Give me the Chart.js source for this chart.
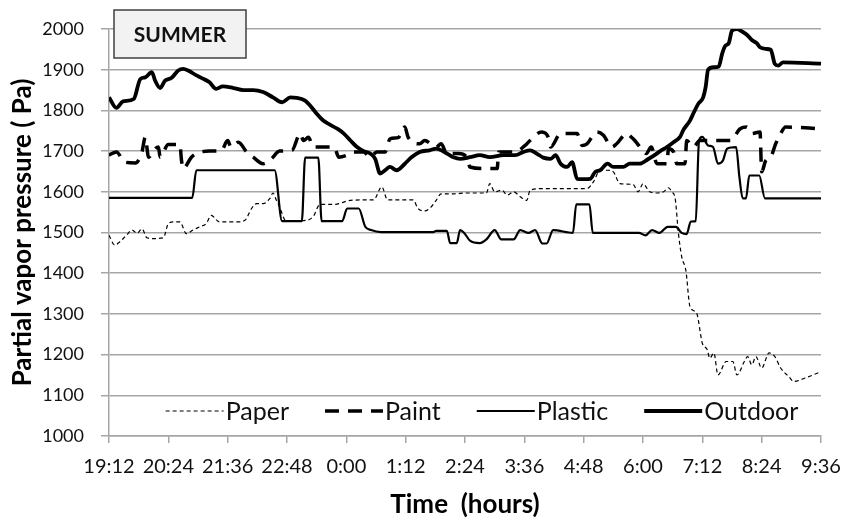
<!DOCTYPE html>
<html>
<head>
<meta charset="utf-8">
<script src="https://cdn.jsdelivr.net/npm/chart.js@4.4.0/dist/chart.umd.min.js"></script>
<style>
html,body{margin:0;padding:0;background:#fff;}
#rahmen{position:relative;width:845px;height:520px;}
</style>
</head>
<body>
<div id="rahmen"><canvas id="dampfChart"></canvas></div>
<script>
(function(){
'use strict';

// Zeit in Minuten seit 19:12
var TICK_MIN = [0,72,144,216,288,360,432,504,576,648,720,792,864];
var TICK_LABELS = ['19:12','20:24','21:36','22:48','0:00','1:12','2:24','3:36','4:48','6:00','7:12','8:24','9:36'];

var PAPER = [[0,1493],[7,1469],[13,1477],[21,1493],[28,1506],[34,1498],[40,1509],[46,1487],[54,1485],[66,1487],
  [72,1522],[78,1526],[86,1526],[94,1497],[102,1506],[110,1514],[118,1522],[124,1542],[134,1526],[142,1526],
  [155,1526],[165,1530],[173,1559],[179,1571],[187,1571],[195,1583],[199,1597],[203,1580],[207,1563],[215,1528],
  [240,1530],[248,1540],[256,1569],[273,1569],[293,1579],[309,1580],[321,1580],[331,1612],[338,1580],[349,1580],
  [369,1580],[375,1559],[383,1553],[391,1563],[397,1579],[403,1595],[418,1595],[434,1597],[458,1597],[462,1620],
  [468,1600],[477,1604],[483,1592],[491,1600],[499,1588],[507,1579],[511,1604],[527,1608],[580,1608],[588,1625],
  [596,1653],[605,1653],[612,1649],[620,1620],[636,1618],[642,1600],[648,1620],[656,1600],[665,1597],[673,1600],
  [679,1610],[683,1600],[687,1584],[691,1498],[695,1440],[700,1407],[705,1318],[713,1302],[720,1228],[726,1212],
  [729,1191],[734,1204],[739,1150],[749,1183],[757,1183],[762,1150],[771,1183],[775,1195],[780,1175],[785,1195],
  [792,1167],[801,1204],[808,1195],[815,1167],[825,1146],[831,1134],[844,1142],[864,1158]];

var PAINT = [[0,1690],[9,1698],[19,1673],[32,1671],[40,1698],[44,1734],[48,1685],[54,1702],[60,1710],[62,1685],
  [72,1716],[86,1716],[88,1677],[90,1657],[100,1685],[106,1694],[122,1700],[136,1700],[144,1726],[148,1710],
  [157,1722],[167,1698],[175,1685],[187,1669],[197,1681],[207,1700],[222,1702],[232,1743],[236,1726],[242,1734],
  [248,1710],[258,1710],[273,1710],[279,1685],[289,1690],[297,1698],[309,1698],[317,1685],[325,1698],[335,1698],
  [341,1730],[351,1733],[359,1759],[363,1734],[377,1718],[383,1726],[397,1710],[403,1718],[410,1694],[424,1694],
  [434,1685],[438,1661],[458,1657],[471,1657],[473,1698],[493,1698],[505,1714],[511,1726],[525,1747],[533,1734],
  [536,1710],[548,1743],[568,1743],[574,1714],[580,1718],[592,1747],[600,1739],[610,1710],[616,1718],[628,1743],
  [634,1734],[638,1726],[646,1706],[652,1694],[658,1710],[665,1669],[677,1669],[679,1706],[685,1698],[689,1669],
  [699,1669],[701,1726],[709,1710],[717,1726],[729,1726],[754,1726],[766,1755],[774,1759],[780,1743],[790,1747],
  [792,1649],[797,1677],[803,1685],[809,1718],[815,1743],[821,1759],[864,1755]];

var PLASTIC = [[0,1585],[101,1585],[106,1653],[201,1653],[210,1528],[234,1528],[238,1684],[254,1684],[258,1528],
  [283,1528],[289,1559],[303,1559],[311,1514],[318,1506],[330,1501],[394,1501],[397,1504],[410,1504],[414,1474],
  [422,1474],[426,1506],[431,1499],[438,1480],[450,1474],[458,1483],[468,1506],[476,1483],[491,1483],[499,1506],
  [509,1499],[517,1506],[526,1473],[531,1473],[539,1506],[563,1499],[567,1569],[583,1569],[587,1499],[643,1499],
  [651,1493],[659,1506],[668,1499],[678,1514],[688,1514],[695,1499],[701,1496],[706,1527],[712,1528],[716,1726],
  [720,1735],[727,1714],[733,1710],[739,1669],[745,1677],[750,1706],[761,1710],[765,1636],[769,1584],[773,1584],
  [777,1640],[789,1640],[796,1584],[864,1584]];

var OUTDOOR = [[0,1832],[9,1806],[17,1822],[30,1828],[38,1877],[44,1881],[52,1894],[56,1873],[62,1855],[68,1873],
  [76,1880],[84,1898],[90,1902],[96,1898],[106,1886],[112,1880],[122,1869],[130,1853],[138,1859],[151,1855],
  [163,1850],[175,1850],[187,1845],[199,1832],[210,1820],[220,1832],[228,1831],[238,1824],[244,1812],[252,1792],
  [260,1775],[268,1765],[277,1755],[285,1743],[293,1726],[301,1710],[309,1700],[317,1694],[323,1681],[329,1645],
  [335,1653],[341,1661],[349,1653],[359,1669],[367,1685],[377,1698],[389,1702],[397,1706],[410,1694],[418,1685],
  [426,1681],[438,1685],[450,1690],[462,1685],[479,1690],[493,1690],[503,1698],[511,1702],[519,1694],[527,1684],
  [536,1681],[542,1690],[548,1669],[556,1661],[562,1673],[568,1632],[576,1631],[584,1632],[590,1649],[596,1653],
  [605,1669],[612,1661],[624,1661],[632,1669],[644,1669],[654,1680],[662,1690],[669,1700],[677,1710],[685,1722],
  [693,1735],[697,1752],[705,1775],[709,1792],[715,1816],[721,1832],[724,1857],[727,1900],[734,1906],[740,1908],
  [744,1939],[748,1959],[752,1965],[756,1996],[762,2000],[768,1994],[774,1986],[780,1973],[786,1965],[790,1955],
  [797,1951],[803,1949],[808,1914],[812,1910],[818,1918],[864,1915]];

var GRAU = '#a6a6a6';
var SCHRIFT = 'Lato, "Open Sans", sans-serif';

function punkte(arr) {
  return arr.map(function(p){ return {x:p[0], y:p[1]}; });
}

function reihe(label, arr, breite, strich) {
  return {
    label: label,
    data: punkte(arr),
    borderColor: '#000',
    backgroundColor: '#000',
    borderWidth: breite,
    borderDash: strich,
    pointRadius: 0,
    fill: false,
    cubicInterpolationMode: 'monotone',
  };
}

var summerBox = {
  id: 'summerBox',
  afterDatasetsDraw: function(chart) {
    var ctx = chart.ctx, ca = chart.chartArea;
    var x = ca.left + 5, y = ca.top - 19, w = 132, h = 48;
    ctx.save();
    ctx.fillStyle = '#f2f2f2';
    ctx.fillRect(x, y, w, h);
    ctx.strokeStyle = '#404040';
    ctx.lineWidth = 1.5;
    ctx.strokeRect(x, y, w, h);
    ctx.fillStyle = '#111';
    ctx.font = 'bold 21px ' + SCHRIFT;
    ctx.textAlign = 'center';
    ctx.textBaseline = 'middle';
    ctx.fillText('SUMMER', x + w/2, y + h/2 + 1);
    ctx.restore();
  }
};

var innenLegende = {
  id: 'innenLegende',
  afterDraw: function(chart) {
    var ctx = chart.ctx, ca = chart.chartArea;
    var linie = 58, abstand = 2, luecke = 36;
    ctx.save();
    ctx.font = '25px ' + SCHRIFT;
    var ds = chart.data.datasets;
    var breiten = ds.map(function(d){ return ctx.measureText(d.label).width; });
    var gesamt = 0;
    breiten.forEach(function(b){ gesamt += linie + abstand + b; });
    gesamt += luecke * (breiten.length - 1);
    var x = (ca.left + ca.right)/2 + 17 - gesamt/2;
    var y = ca.bottom - 25;
    ds.forEach(function(d, i){
      ctx.strokeStyle = d.borderColor;
      ctx.lineWidth = d.borderWidth;
      ctx.setLineDash(d.borderDash || []);
      ctx.beginPath();
      ctx.moveTo(x, y);
      ctx.lineTo(x + linie, y);
      ctx.stroke();
      ctx.setLineDash([]);
      ctx.fillStyle = '#111';
      ctx.textAlign = 'left';
      ctx.textBaseline = 'middle';
      ctx.fillText(d.label, x + linie + abstand, y + 1);
      x += linie + abstand + breiten[i] + luecke;
    });
    ctx.restore();
  }
};

var ctx = document.getElementById('dampfChart').getContext('2d');
new Chart(ctx, {
  type: 'line',
  data: {
    datasets: [
      reihe('Paper', PAPER, 1.2, [4,3]),
      reihe('Paint', PAINT, 3.5, [14,9]),
      reihe('Plastic', PLASTIC, 2.2, []),
      reihe('Outdoor', OUTDOOR, 3.8, []),
    ]
  },
  options: {
    responsive: true,
    maintainAspectRatio: false,
    animation: false,
    devicePixelRatio: 1,
    layout: { padding: {left:0, right:24, top:29, bottom:0} },
    scales: {
      x: {
        type: 'linear',
        min: 0,
        max: 864,
        afterBuildTicks: function(s){ s.ticks = TICK_MIN.map(function(v){ return {value:v}; }); },
        afterFit: function(s){ s.height = 84; s.paddingLeft = 0; s.paddingRight = 0; },
        ticks: {
          autoSkip: false,
          maxRotation: 0,
          padding: 12,
          color: '#111',
          font: {family: SCHRIFT, size: 20},
          callback: function(v, i){ return TICK_LABELS[i]; }
        },
        grid: { drawOnChartArea: false, color: GRAU, lineWidth: 1.5, tickLength: 7 },
        border: { color: GRAU, width: 1.5 },
        title: {
          display: true,
          text: 'Time  (hours)',
          color: '#000',
          font: {family: SCHRIFT, size: 26, weight: 'bold'},
          padding: {top:0, bottom:0}
        }
      },
      y: {
        min: 1000,
        max: 2000,
        afterFit: function(s){ s.width = 109; },
        ticks: {
          stepSize: 100,
          padding: 17,
          color: '#111',
          font: {family: SCHRIFT, size: 18},
          callback: function(v){ return String(v); }
        },
        grid: { color: GRAU, lineWidth: 1.5, tickLength: 8 },
        border: { color: GRAU, width: 1.5 },
        title: {
          display: true,
          text: 'Partial vapor pressure ( Pa)',
          color: '#000',
          font: {family: SCHRIFT, size: 26, weight: 'bold'},
          padding: {top:7, bottom:0}
        }
      }
    },
    plugins: {
      legend: { display: false },
      tooltip: { enabled: false }
    }
  },
  plugins: [summerBox, innenLegende]
});

})();
</script>
</body>
</html>
